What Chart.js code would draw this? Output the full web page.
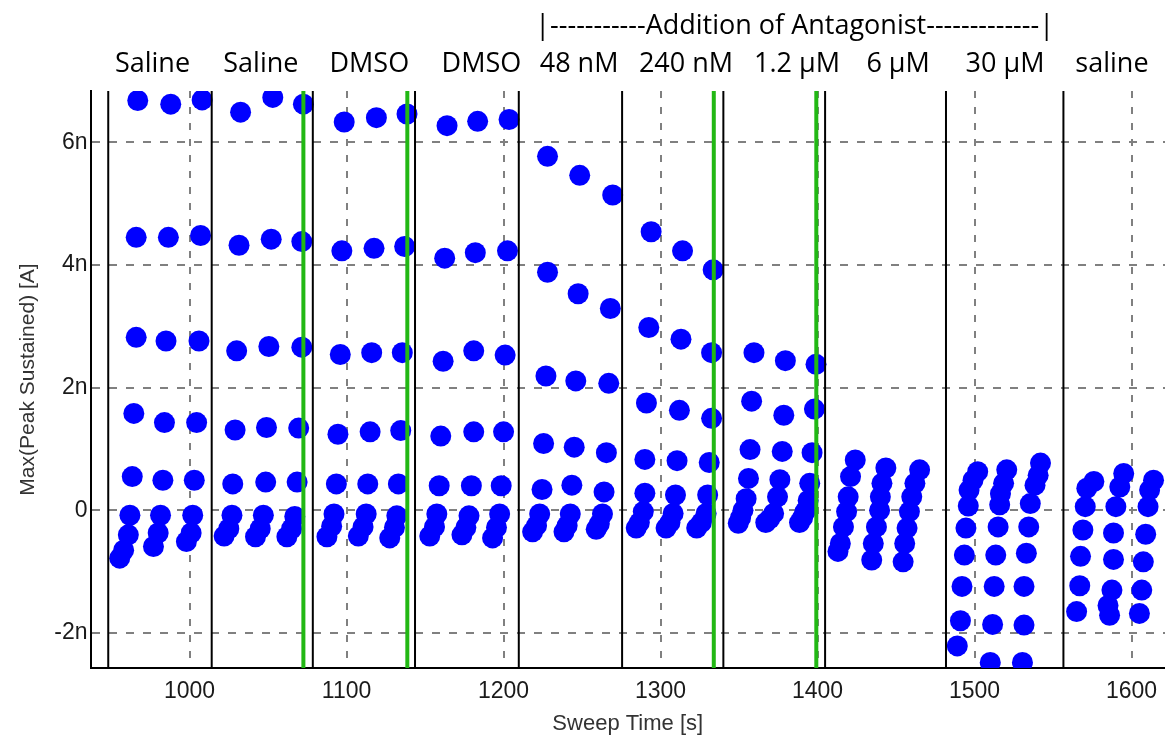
<!DOCTYPE html>
<html>
<head>
<meta charset="utf-8">
<script src="https://cdn.jsdelivr.net/npm/chart.js@4.4.1/dist/chart.umd.min.js"></script>
<style>
  body { margin: 0; background: #fff; }
  .chart-box { position: relative; width: 1165px; height: 738px; }
</style>
</head>
<body>
<div class="chart-box"><canvas id="sweepChart"></canvas></div>
<script>
// Sweep data: [sweep time (s), Max(Peak Sustained) (nA)], three sweeps per block
const saline1 = [
  [967, 6.68], [966, 4.45], [966, 2.82], [964.5, 1.58], [963.5, 0.55], [962, -0.08], [961, -0.40], [958, -0.65], [955.5, -0.78],
  [988, 6.62], [986.5, 4.45], [985, 2.76], [984, 1.43], [983, 0.49], [981.5, -0.08], [980, -0.37], [977, -0.59],
  [1008, 6.69], [1007, 4.48], [1006, 2.76], [1004.5, 1.43], [1003, 0.49], [1002, -0.08], [1001, -0.37], [998, -0.51]
];
const saline2 = [
  [1032.5, 6.49], [1031.5, 4.32], [1030, 2.60], [1029, 1.31], [1027.5, 0.43], [1027, -0.08], [1025, -0.30], [1022, -0.42],
  [1053, 6.73], [1052, 4.42], [1050.5, 2.67], [1049, 1.35], [1048.5, 0.46], [1047, -0.08], [1045, -0.30], [1042, -0.43],
  [1072.5, 6.62], [1071.5, 4.38], [1071.5, 2.66], [1069.5, 1.34], [1068.5, 0.46], [1067, -0.10], [1065, -0.30], [1062, -0.43]
];
const dmso1 = [
  [1098.5, 6.33], [1097, 4.23], [1096, 2.54], [1094.5, 1.24], [1093.5, 0.43], [1092, -0.06], [1090.5, -0.26], [1087.5, -0.43],
  [1119, 6.40], [1117.5, 4.27], [1116, 2.57], [1115, 1.28], [1113.5, 0.43], [1112.5, -0.06], [1110.5, -0.27], [1107.5, -0.42],
  [1138.5, 6.46], [1137, 4.30], [1135.5, 2.57], [1134.5, 1.30], [1133, 0.43], [1132, -0.09], [1130.5, -0.28], [1127.5, -0.45]
];
const dmso2 = [
  [1164, 6.27], [1162.5, 4.11], [1161.5, 2.43], [1160, 1.21], [1159, 0.40], [1157.5, -0.06], [1156, -0.27], [1153, -0.42],
  [1183.5, 6.34], [1182, 4.20], [1181, 2.60], [1181, 1.28], [1179.5, 0.40], [1178, -0.09], [1176, -0.28], [1173.5, -0.40],
  [1203.5, 6.37], [1202.5, 4.23], [1201, 2.53], [1200, 1.28], [1198.5, 0.40], [1197.5, -0.06], [1195.5, -0.28], [1193, -0.45]
];
const nM48 = [
  [1228, 5.77], [1228, 3.88], [1227, 2.19], [1225.5, 1.09], [1224.5, 0.34], [1223, -0.06], [1221, -0.25], [1218.5, -0.35],
  [1248.5, 5.46], [1247.5, 3.53], [1246, 2.11], [1245, 1.03], [1243.5, 0.41], [1242.5, -0.06], [1240.5, -0.25], [1238.5, -0.35],
  [1269.5, 5.14], [1268, 3.29], [1267, 2.07], [1265.5, 0.94], [1264, 0.30], [1263, -0.06], [1261, -0.22], [1259, -0.31]
];
const nM240 = [
  [1294, 4.54], [1292.5, 2.98], [1291, 1.75], [1290, 0.83], [1290, 0.28], [1289, -0.02], [1286.5, -0.20], [1284.5, -0.29],
  [1314, 4.23], [1313, 2.79], [1312, 1.63], [1310.5, 0.81], [1309.5, 0.25], [1308, -0.05], [1306, -0.20], [1303.5, -0.29],
  [1333.5, 3.92], [1332.5, 2.57], [1332.5, 1.50], [1331, 0.78], [1330, 0.25], [1329, -0.05], [1326, -0.20], [1323, -0.29]
];
const uM1_2 = [
  [1359.5, 2.57], [1358, 1.78], [1357, 0.99], [1356, 0.52], [1354.5, 0.19], [1352.5, 0.00], [1351, -0.12], [1349.5, -0.21],
  [1379.5, 2.44], [1378.5, 1.55], [1377.5, 0.96], [1376, 0.50], [1374.5, 0.22], [1372, -0.05], [1369.5, -0.14], [1367, -0.20],
  [1399, 2.38], [1398, 1.65], [1396.5, 0.94], [1395, 0.44], [1394, 0.16], [1392, -0.02], [1390.5, -0.12], [1388.5, -0.20]
];
const uM6 = [
  [1424, 0.82], [1421, 0.55], [1419.5, 0.22], [1418.5, -0.02], [1416.5, -0.27], [1414.5, -0.54], [1413, -0.67],
  [1443.5, 0.69], [1441, 0.44], [1440, 0.22], [1439.5, 0.00], [1437.5, -0.27], [1435.5, -0.54], [1434.5, -0.81],
  [1465, 0.66], [1462, 0.44], [1460, 0.22], [1458.5, -0.02], [1457, -0.29], [1455.5, -0.54], [1454.5, -0.84]
];
const uM30 = [
  [1502, 0.63], [1499, 0.49], [1496.5, 0.33], [1496, 0.07], [1494.5, -0.29], [1493.5, -0.73], [1492, -1.24], [1491, -1.80], [1489, -2.21],
  [1520.5, 0.66], [1518.5, 0.44], [1516.5, 0.27], [1516, 0.09], [1515, -0.27], [1513.5, -0.73], [1512.5, -1.24], [1511.5, -1.86], [1510, -2.48],
  [1542, 0.77], [1540.5, 0.57], [1538.5, 0.41], [1535.5, 0.11], [1534.5, -0.27], [1533, -0.70], [1531.5, -1.24], [1531.5, -1.87], [1530.5, -2.48]
];
const saline3 = [
  [1576, 0.47], [1571.5, 0.36], [1570.5, 0.06], [1569, -0.32], [1567.5, -0.75], [1567, -1.23], [1565, -1.65],
  [1595, 0.60], [1592.5, 0.38], [1590, 0.06], [1588.5, -0.37], [1588.5, -0.80], [1587.5, -1.30], [1585, -1.55], [1586, -1.71],
  [1614, 0.49], [1611.5, 0.33], [1610.5, 0.06], [1609, -0.39], [1607.5, -0.84], [1606.5, -1.30], [1605, -1.68]
];

// block boundaries (black) and solution changes (green), seconds
const blockEdges = [948.2, 1014.1, 1078.5, 1143.6, 1209.7, 1275.5, 1340.0, 1404.8, 1481.8, 1556.6];
const solutionMarks = [1072.5, 1138.7, 1333.9, 1399.2];

const blockLabels = ['Saline', 'Saline', 'DMSO', 'DMSO', '48 nM', '240 nM', '1.2 \u03bcM', '6 \u03bcM', '30 \u03bcM', 'saline'];
const headerText = '|-----------Addition of Antagonist-------------|';

const xTicks = [1000, 1100, 1200, 1300, 1400, 1500, 1600];
const yTicks = [-2, 0, 2, 4, 6];

// where the text sits above the plot (seconds on the x axis)
const labelCenters = [976.4, 1045.4, 1114.5, 1185.9, 1248.1, 1316.2, 1386.9, 1451.3, 1519.4, 1587.5];
const headerCenter = 1385.4;

document.addEventListener('DOMContentLoaded', function() {
  const blocks = [saline1, saline2, dmso1, dmso2, nM48, nM240, uM1_2, uM6, uM30, saline3];
  const points = [];
  blocks.forEach(b => b.forEach(p => points.push({ x: p[0], y: p[1] })));

  // vertical event lines, drawn over the dots
  const eventLines = {
    id: 'eventLines',
    afterDatasetsDraw(chart) {
      const { ctx, chartArea, scales } = chart;
      ctx.save();
      ctx.beginPath();
      ctx.rect(chartArea.left, chartArea.top, chartArea.right - chartArea.left, chartArea.bottom - chartArea.top);
      ctx.clip();
      blockEdges.forEach(t => {
        const x = scales.x.getPixelForValue(t);
        ctx.strokeStyle = '#000';
        ctx.lineWidth = 2;
        ctx.beginPath();
        ctx.moveTo(x, chartArea.top);
        ctx.lineTo(x, chartArea.bottom);
        ctx.stroke();
      });
      solutionMarks.forEach(t => {
        const x = scales.x.getPixelForValue(t);
        ctx.strokeStyle = '#22b814';
        ctx.lineWidth = 4;
        ctx.beginPath();
        ctx.moveTo(x, chartArea.top);
        ctx.lineTo(x, chartArea.bottom);
        ctx.stroke();
      });
      ctx.restore();
    }
  };

  // condition labels above the plot
  const topLabels = {
    id: 'topLabels',
    afterDraw(chart) {
      const { ctx, scales } = chart;
      ctx.save();
      ctx.font = '27px "Open Sans"';
      ctx.fillStyle = '#000';
      ctx.textAlign = 'center';
      ctx.textBaseline = 'alphabetic';
      ctx.fillText(headerText, scales.x.getPixelForValue(headerCenter), 34);
      blockLabels.forEach((txt, i) => {
        ctx.fillText(txt, scales.x.getPixelForValue(labelCenters[i]), 72);
      });
      ctx.restore();
    }
  };

  const tickFont = { family: '"Liberation Sans", Arial, sans-serif', size: 23 };

  new Chart(document.getElementById('sweepChart'), {
    type: 'scatter',
    data: {
      datasets: [{
        data: points,
        backgroundColor: '#0000ff',
        borderWidth: 0,
        pointRadius: 10.5,
        pointHoverRadius: 10.5,
        clip: 0
      }]
    },
    options: {
      responsive: true,
      maintainAspectRatio: false,
      animation: false,
      layout: { autoPadding: false, padding: { top: 91, left: 0, right: 0, bottom: 0 } },
      plugins: {
        legend: { display: false },
        tooltip: { enabled: false }
      },
      scales: {
        x: {
          type: 'linear',
          min: 936.9,
          max: 1621.3,
          afterBuildTicks: s => { s.ticks = xTicks.map(v => ({ value: v })); },
          afterFit: s => { s.height = 70; s.paddingLeft = 0; s.paddingRight = 0; },
          ticks: { font: tickFont, color: '#1a1a1a', padding: 10, callback: v => String(v) },
          grid: { color: '#808080', lineWidth: 2, drawTicks: false },
          border: { color: '#000', width: 2, dash: [7, 9] },
          title: {
            display: true,
            text: 'Sweep Time [s]',
            font: { family: '"Liberation Sans", Arial, sans-serif', size: 22 },
            color: '#333',
            padding: { top: 0, bottom: 1 }
          }
        },
        y: {
          min: -2.570,
          max: 6.835,
          afterBuildTicks: s => { s.ticks = yTicks.map(v => ({ value: v })); },
          afterFit: s => { s.width = 90.5; s.paddingTop = 0; s.paddingBottom = 0; },
          ticks: { font: tickFont, color: '#1a1a1a', padding: 3, callback: v => v === 0 ? '0' : v + 'n' },
          grid: { color: '#808080', lineWidth: 2, drawTicks: false },
          border: { color: '#000', width: 2, dash: [8, 9] },
          title: {
            display: true,
            text: 'Max(Peak Sustained) [A]',
            font: { family: '"Liberation Sans", Arial, sans-serif', size: 21 },
            color: '#333',
            padding: { top: 16, bottom: 0 }
          }
        }
      }
    },
    plugins: [eventLines, topLabels]
  });
});
</script>
</body>
</html>
